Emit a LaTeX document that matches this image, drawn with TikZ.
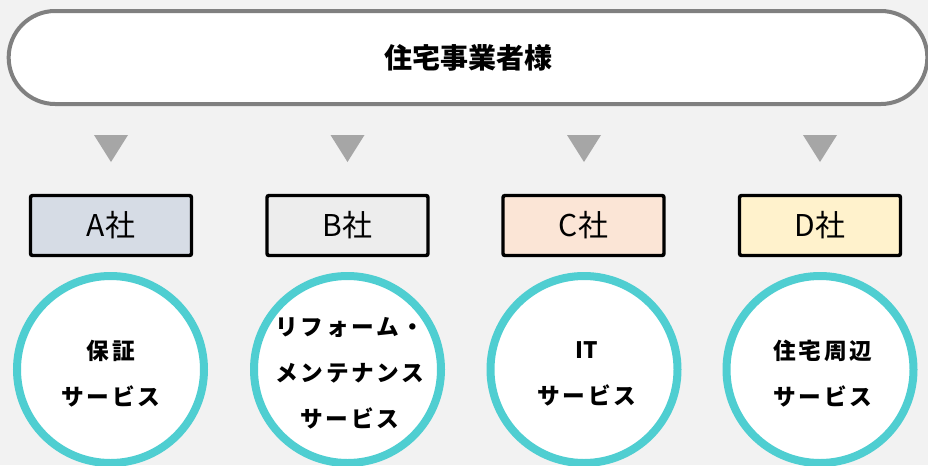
\documentclass[tikz,border=0pt]{standalone}
\usepackage{fontspec}
\setmainfont{Noto Sans CJK JP}
\usetikzlibrary{shapes.misc}
\definecolor{bg}{HTML}{F2F2F2}
\definecolor{pillgray}{HTML}{808080}
\definecolor{trigray}{HTML}{A6A6A6}
\definecolor{turq}{HTML}{4FCED1}
\definecolor{fillA}{HTML}{D6DCE5}
\definecolor{fillB}{HTML}{EDEDED}
\definecolor{fillC}{HTML}{FBE5D6}
\definecolor{fillD}{HTML}{FFF2CC}
\begin{document}
\begin{tikzpicture}[x=0.75pt,y=-0.75pt,
  pill/.style={rounded rectangle, draw=pillgray, fill=white, line width=3pt,
    minimum width=689pt, minimum height=69.75pt, inner sep=0pt,
    font=\fontsize{21}{24}\selectfont\bfseries},
  company/.style={rectangle, draw=black, line width=2.6pt, rounded corners=1.5pt,
    minimum width=120.75pt, minimum height=45pt, inner sep=0pt,
    font=\fontsize{22.5}{26}\selectfont},
  service/.style={circle, draw=turq, fill=white, line width=6pt,
    minimum size=140.25pt, inner sep=0pt},
  servtext/.style={align=center, inner sep=0pt,
    font=\fontsize{17}{34.5}\selectfont\bfseries\addfontfeature{LetterSpace=12}},
  tri/.style={fill=trigray}
]
\fill[bg] (0,0) rectangle (928,465);
\useasboundingbox (0,0) rectangle (928,465);

\node[pill] (top) at (468,57.5) {住宅事業者様};

\foreach \x in {111,347.5,584,820} {
  \fill[tri] (\x-17,135) -- (\x+17,135) -- (\x,162) -- cycle;
}

\node[company, fill=fillA] (boxA) at (111,225.5) {\raisebox{-1.5pt}{A社}};
\node[company, fill=fillB] (boxB) at (347.5,225.5) {\raisebox{-1.5pt}{B社}};
\node[company, fill=fillC] (boxC) at (583.5,225.5) {\raisebox{-1.5pt}{C社}};
\node[company, fill=fillD] (boxD) at (820,225.5) {\raisebox{-1.5pt}{D社}};

\node[service] (circA) at (110.5,369.5) {};
\node[service] (circB) at (347.5,369.5) {};
\node[service] (circC) at (584,369.5) {};
\node[service] (circD) at (820,369.5) {};

\node[servtext] (txtA) at (111,374) {保証\\サービス};
\node[servtext] (txtB) at (350,373.5) {リフォーム・\\メンテナンス\\サービス};
\node[servtext] (txtC) at (587,374) {{\addfontfeature{LetterSpace=0}IT}\\サービス};
\node[servtext] (txtD) at (823,374) {住宅周辺\\サービス};
\end{tikzpicture}
\end{document}
